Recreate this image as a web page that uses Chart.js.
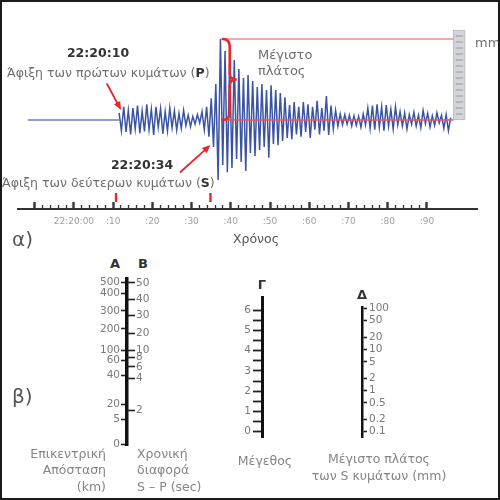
<!DOCTYPE html>
<html>
<head>
<meta charset="utf-8">
<script src="https://cdn.jsdelivr.net/npm/chart.js@4"></script>
<style>
html, body { margin: 0; padding: 0; background: #fff; }
#wrap { position: relative; width: 500px; height: 500px; overflow: hidden; font-family: 'DejaVu Sans', sans-serif; }
#frame { position: absolute; left: 0; top: 0; width: 500px; height: 500px; box-sizing: border-box; border: 2px solid #1a1a1a; pointer-events: none; }
canvas { position: absolute; }
.t { position: absolute; white-space: nowrap; color: #6e6e6e; font-size: 12.5px; line-height: 1; }
.c { transform: translateX(-50%); }
.b { font-weight: bold; color: #333; }
.g { color: #858585; }
.big { font-size: 20px; color: #555; }
</style>
</head>
<body>
<div id="wrap">
  <canvas id="seismo" width="461" height="212" style="left:17px;top:0px"></canvas>
  <canvas id="timeAxis" width="461" height="40" style="left:17px;top:188px"></canvas>
  <canvas id="nomoAB" width="81" height="182" style="left:87px;top:271px"></canvas>
  <canvas id="nomoG" width="31" height="157" style="left:233px;top:289px"></canvas>
  <canvas id="nomoD" width="41" height="147" style="left:361px;top:299px"></canvas>

  <div class="t b c" style="left:98px;top:47px">22:20:10</div>
  <div class="t" style="left:7px;top:67px">Άφιξη των πρώτων κυμάτων (<b style="color:#333">P</b>)</div>
  <div class="t b c" style="left:142px;top:159px">22:20:34</div>
  <div class="t" style="left:2px;top:177px">Άφιξη των δεύτερων κυμάτων (<b style="color:#333">S</b>)</div>
  <div class="t" style="left:258px;top:48px;font-size:13px">Μέγιστο</div>
  <div class="t" style="left:258px;top:64px;font-size:13px">πλάτος</div>
  <div class="t" style="left:475px;top:36px;font-size:13px">mm</div>
  <div class="t c" style="left:256px;top:233px;color:#555">Χρόνος</div>
  <div class="t big" style="left:12px;top:229px">α)</div>
  <div class="t big" style="left:12px;top:386px">β)</div>

  <div class="t b c" style="left:115px;top:257px;font-size:13px">A</div>
  <div class="t b c" style="left:143px;top:257px;font-size:13px">B</div>
  <div class="t b c" style="left:262px;top:278px;font-size:13px">Γ</div>
  <div class="t b c" style="left:362px;top:288px;font-size:13px">Δ</div>

  <div class="t g" style="right:394px;top:448px">Επικεντρική</div>
  <div class="t g" style="right:394px;top:464px">Απόσταση</div>
  <div class="t g" style="right:394px;top:481px">(km)</div>
  <div class="t g" style="left:137px;top:448px">Χρονική</div>
  <div class="t g" style="left:137px;top:464px">διαφορά</div>
  <div class="t g" style="left:137px;top:481px">S – P (sec)</div>
  <div class="t g c" style="left:265px;top:455px">Μέγεθος</div>
  <div class="t g c" style="left:379px;top:453px">Μέγιστο πλάτος</div>
  <div class="t g c" style="left:379px;top:470px">των S κυμάτων (mm)</div>
  <div id="frame"></div>
</div>

<script>
// seismogram (time in s after 22:20:00, amplitude in mm)
const timeMin = -14.5, timeMax = 103;
const timeTickSec = [0, 10, 20, 30, 40, 50, 60, 70, 80, 90];
const timeTickLabels = ['22:20:00', ':10', ':20', ':30', ':40', ':50', ':60', ':70', ':80', ':90'];
const traceStartSec = -13;
const arrivalMarksSec = [10, 34.6];
const waveT = [
  10.8, 11.4, 12.0, 12.6, 13.2, 13.8, 14.4, 15.0, 15.6, 16.2,
  16.8, 17.4, 18.0, 18.6, 19.2, 19.8, 20.4, 21.0, 21.6, 22.2,
  22.8, 23.4, 24.0, 24.6, 25.2, 25.8, 26.4, 27.0, 27.6, 28.2,
  28.8, 29.4, 30.0, 30.6, 31.2, 31.8, 32.4, 33.0, 33.6, 34.2,
  34.8, 35.4, 36.0, 36.6, 37.2, 37.8, 38.4, 39.0, 39.6, 40.2,
  40.8, 41.4, 42.0, 42.6, 43.2, 43.8, 44.4, 45.0, 45.6, 46.2,
  46.8, 47.4, 48.0, 48.6, 49.2, 49.8, 50.4, 51.0, 51.6, 52.2,
  52.8, 53.4, 54.0, 54.6, 55.2, 55.8, 56.4, 57.0, 57.6, 58.2,
  58.8, 59.4, 60.0, 60.6, 61.2, 61.8, 62.4, 63.0, 63.6, 64.2,
  64.8, 65.4, 66.0, 66.6, 67.2, 67.8, 68.4, 69.0, 69.6, 70.2,
  70.8, 71.4, 72.0, 72.6, 73.2, 73.8, 74.4, 75.0, 75.6, 76.2,
  76.8, 77.4, 78.0, 78.6, 79.2, 79.8, 80.4, 81.0, 81.6, 82.2,
  82.8, 83.4, 84.0, 84.6, 85.2, 85.8, 86.4, 87.0, 87.6, 88.2,
  88.8, 89.4, 90.0, 90.6, 91.2, 91.8, 92.4, 93.0, 93.6, 94.2,
  94.8, 95.4, 96.0, 96.6, 97.2
];
const waveV = [
  1.2, -1.8, 2.2, -2.0, 1.6, -2.4, 2.0, -1.5, 2.4, -2.2,
  1.5, -1.9, 2.6, -1.6, 1.8, -2.5, 2.2, -1.2, 1.9, -2.3,
  1.4, -1.8, 2.0, -1.3, 1.5, -1.7, 1.1, -1.4, 1.6, -0.9,
  0.8, -1.1, 0.6, -0.7, 0.9, -0.5, 1.4, -1.6, 2.2, -2.8,
  3.6, -4.5, 6.0, -10.0, 13.5, -7.5, 11.5, -8.7, 9.5, -8.0,
  10.0, -6.5, 8.5, -7.0, 7.0, -8.5, 7.5, -5.5, 6.5, -6.0,
  5.5, -5.0, 6.0, -4.5, 5.0, -6.3, 5.8, -4.0, 5.0, -4.2,
  4.5, -3.5, 3.8, -3.0, 2.5, -3.2, 3.0, -2.4, 2.2, -2.8,
  3.0, -2.0, 2.6, -3.0, 2.2, -1.6, 3.2, -2.4, 2.0, -1.8,
  4.0, -2.5, 2.4, -1.5, 1.6, -1.0, 1.0, -0.8, 0.9, -0.7,
  0.8, -1.0, 0.7, -0.9, 0.6, -1.2, 1.0, -0.8, 2.0, -1.4,
  2.4, -1.6, 2.6, -1.2, 2.2, -1.8, 2.5, -1.0, 1.8, -1.5,
  2.2, -0.8, 1.4, -1.0, 1.2, -1.5, 0.9, -0.7, 1.3, -1.0,
  0.8, -1.3, 1.6, -0.6, 1.1, -1.2, 0.7, -0.9, 1.2, -0.5,
  0.8, -1.4, 0.9, -1.8, 0.4
];
const maxAmpMm = 13.5;
const braceSec = 37.8;
const levelLineSec = [38.3, 97.9];
const rulerSec = 99.4;
const rulerMm = 15;
const rulerMarksMm = [1, 2, 3, 4, 5, 6, 7, 8, 9, 10, 11, 12, 13, 14];

// nomogram scales (positions read along each scale, bottom = 0)
const distKm = ['0', '5', '20', '40', '60', '100', '200', '300', '400', '500'];
const distPos = [1, 26, 41, 70, 85, 95, 116, 134, 152, 163];
const spSec = ['2', '4', '6', '8', '10', '20', '30', '40', '50'];
const spPos = [35, 67, 78, 88, 95, 112, 130, 146, 162];
const magnitudes = [0, 1, 2, 3, 4, 5, 6];
const ampMm = [0.1, 0.2, 0.5, 1, 2, 5, 10, 20, 50, 100];
const ampLabels = ['0.1', '0.2', '0.5', '1', '2', '5', '10', '20', '50', '100'];

Chart.defaults.font.family = "'DejaVu Sans', sans-serif";

const common = {
  responsive: false,
  animation: false,
  devicePixelRatio: 1,
  events: [],
  plugins: { legend: { display: false }, tooltip: { enabled: false } }
};

function arrow(ctx, x1, y1, x2, y2) {
  const a = Math.atan2(y2 - y1, x2 - x1);
  ctx.beginPath();
  ctx.moveTo(x1, y1);
  ctx.lineTo(x2 - 5 * Math.cos(a), y2 - 5 * Math.sin(a));
  ctx.stroke();
  ctx.beginPath();
  ctx.moveTo(x2, y2);
  ctx.lineTo(x2 - 9 * Math.cos(a - 0.4), y2 - 9 * Math.sin(a - 0.4));
  ctx.lineTo(x2 - 9 * Math.cos(a + 0.4), y2 - 9 * Math.sin(a + 0.4));
  ctx.closePath();
  ctx.fill();
}

const seismoMarks = {
  id: 'seismoMarks',
  afterDatasetsDraw(chart) {
    const { ctx, scales: { x, y } } = chart;
    const y0 = y.getPixelForValue(0);
    ctx.save();
    ctx.strokeStyle = '#e8262b';
    ctx.fillStyle = '#e8262b';
    ctx.lineCap = 'round';

    // brace marking the maximum amplitude
    const bx = x.getPixelForValue(braceSec);
    const yTop = y.getPixelForValue(maxAmpMm);
    const mid = (yTop + y0) / 2;
    const w = 7;
    ctx.lineWidth = 2.6;
    ctx.beginPath();
    ctx.moveTo(bx, yTop);
    ctx.quadraticCurveTo(bx + w, yTop, bx + w, yTop + 8);
    ctx.lineTo(bx + w, mid - 6);
    ctx.quadraticCurveTo(bx + w, mid, bx + 2 * w, mid);
    ctx.quadraticCurveTo(bx + w, mid, bx + w, mid + 6);
    ctx.lineTo(bx + w, y0 - 8);
    ctx.quadraticCurveTo(bx + w, y0, bx, y0);
    ctx.stroke();

    // arrows to the arrivals
    ctx.lineWidth = 1.8;
    const px = x.getPixelForValue(arrivalMarksSec[0]) + 5;
    arrow(ctx, px - 14, y0 - 36, px, y0 - 10);
    const sx = x.getPixelForValue(arrivalMarksSec[1]);
    arrow(ctx, sx - 30, y0 + 52, sx, y0 + 25);

    // arrival marks just above the time axis
    ctx.lineWidth = 2.4;
    ctx.lineCap = 'butt';
    arrivalMarksSec.forEach(t => {
      const mx = x.getPixelForValue(t);
      ctx.beginPath();
      ctx.moveTo(mx, y0 + 73);
      ctx.lineTo(mx, y0 + 82);
      ctx.stroke();
    });
    ctx.restore();
  }
};

// datasets are painted last-to-first, so the first one ends up on top
new Chart(document.getElementById('seismo'), {
  type: 'line',
  data: {
    datasets: [
      {
        data: levelLineSec.map(t => ({ x: t, y: maxAmpMm })),
        borderColor: '#f08c8c',
        borderWidth: 1.5,
        pointRadius: 0
      },
      {
        data: levelLineSec.map(t => ({ x: t, y: 0 })),
        borderColor: '#e4566a',
        borderWidth: 1.5,
        pointRadius: 0
      },
      {
        data: waveT.map((t, i) => ({ x: t, y: waveV[i] })),
        borderColor: '#3a54a3',
        borderWidth: 1.5,
        pointRadius: 0,
        tension: 0
      },
      {
        data: [{ x: traceStartSec, y: 0 }, { x: waveT[0], y: 0 }],
        borderColor: '#8a9fcb',
        borderWidth: 2,
        pointRadius: 0
      },
      {
        data: rulerMarksMm.map(v => ({ x: rulerSec, y: v })),
        showLine: false,
        pointStyle: 'line',
        pointRadius: 3.5,
        pointBorderColor: '#96989e',
        pointBorderWidth: 1
      },
      {
        type: 'bar',
        data: [{ x: rulerSec, y: [0, rulerMm] }],
        backgroundColor: '#d3d5da',
        borderColor: '#b7b9bf',
        borderWidth: 1,
        borderSkipped: false,
        barThickness: 12
      }
    ]
  },
  options: {
    ...common,
    layout: { padding: { top: 24, bottom: 8, left: 0, right: 0 } },
    scales: {
      x: { type: 'linear', display: false, min: timeMin, max: timeMax, offset: false },
      y: { type: 'linear', display: false, min: -14, max: 16 }
    }
  },
  plugins: [seismoMarks]
});

new Chart(document.getElementById('timeAxis'), {
  type: 'line',
  data: { datasets: [] },
  options: {
    ...common,
    layout: { padding: 0 },
    scales: {
      x: {
        type: 'linear',
        position: 'top',
        min: timeMin,
        max: timeMax,
        afterBuildTicks(scale) {
          const ticks = [];
          for (let s = -10; s <= 90; s += 2) ticks.push({ value: s });
          scale.ticks = ticks;
        },
        afterFit(scale) { scale.height = 21; },
        grid: {
          drawOnChartArea: false,
          tickLength: 7,
          tickColor: '#333',
          tickWidth: ctx => (ctx.tick && ctx.tick.value % 10 === 0 ? 2.4 : 1.3),
          tickBorderDash: ctx => (ctx.tick && ctx.tick.value % 10 === 0 ? [] : [0, 3, 20])
        },
        border: { color: '#333', width: 2 },
        ticks: {
          mirror: true,
          padding: 7,
          autoSkip: false,
          maxRotation: 0,
          color: '#a0a0a0',
          font: { size: 9 },
          callback(v) {
            const i = timeTickSec.indexOf(v);
            return i >= 0 ? timeTickLabels[i] : '';
          }
        }
      },
      y: { display: false }
    }
  }
});

// A (distance) and B (S-P time) share one line
new Chart(document.getElementById('nomoAB'), {
  type: 'line',
  data: { datasets: [] },
  options: {
    ...common,
    layout: { padding: { top: 8, bottom: 8, left: 0, right: 0 } },
    scales: {
      x: { type: 'linear', display: false, min: 0, max: 1 },
      A: {
        type: 'linear', position: 'left', min: 0, max: 166,
        afterBuildTicks(scale) { scale.ticks = distPos.map(v => ({ value: v })); },
        afterFit(scale) { scale.width = 40; },
        grid: { drawOnChartArea: false, tickLength: 6, tickWidth: 1.6, tickColor: '#222' },
        border: { color: '#111', width: 3.5 },
        ticks: { padding: 1, autoSkip: false, color: '#7a7a7a', font: { size: 10.5 }, callback: (v, i) => distKm[i] }
      },
      B: {
        type: 'linear', position: 'right', min: 0, max: 166,
        afterBuildTicks(scale) { scale.ticks = spPos.map(v => ({ value: v })); },
        afterFit(scale) { scale.width = 40; },
        grid: { drawOnChartArea: false, tickLength: 7, tickWidth: 1.6, tickColor: '#222' },
        border: { display: false },
        ticks: { padding: 1, autoSkip: false, color: '#7a7a7a', font: { size: 10.5 }, callback: (v, i) => spSec[i] }
      }
    }
  }
});

// Γ magnitude
new Chart(document.getElementById('nomoG'), {
  type: 'line',
  data: { datasets: [] },
  options: {
    ...common,
    layout: { padding: { top: 8, bottom: 8, left: 0, right: 0 } },
    scales: {
      x: { type: 'linear', display: false, min: 0, max: 1 },
      y: {
        type: 'linear', position: 'left', min: -0.3, max: 6.64,
        afterBuildTicks(scale) {
          const ticks = [];
          magnitudes.forEach(m => {
            ticks.push({ value: m });
            if (m < magnitudes[magnitudes.length - 1]) ticks.push({ value: m + 0.5 });
          });
          scale.ticks = ticks;
        },
        afterFit(scale) { scale.width = 30; },
        grid: { drawOnChartArea: false, tickLength: 10, tickWidth: 1.8, tickColor: '#222' },
        border: { color: '#111', width: 3.5 },
        ticks: {
          padding: 2, autoSkip: false, color: '#7a7a7a', font: { size: 10.5 },
          callback: v => (magnitudes.includes(v) ? String(v) : '')
        }
      }
    }
  }
});

// Δ maximum amplitude (log)
new Chart(document.getElementById('nomoD'), {
  type: 'line',
  data: { datasets: [] },
  options: {
    ...common,
    layout: { padding: { top: 8, bottom: 8, left: 0, right: 0 } },
    scales: {
      x: { type: 'linear', display: false, min: 0, max: 1 },
      y: {
        type: 'logarithmic', position: 'right', min: 0.0716, max: 105.7,
        afterBuildTicks(scale) { scale.ticks = ampMm.map(v => ({ value: v })); },
        afterFit(scale) { scale.width = 40; },
        grid: { drawOnChartArea: false, tickLength: 5, tickWidth: 1.6, tickColor: '#222' },
        border: { color: '#111', width: 3.5 },
        ticks: { padding: 2, autoSkip: false, color: '#7a7a7a', font: { size: 10.5 }, callback: (v, i) => ampLabels[i] }
      }
    }
  }
});
</script>
</body>
</html>
